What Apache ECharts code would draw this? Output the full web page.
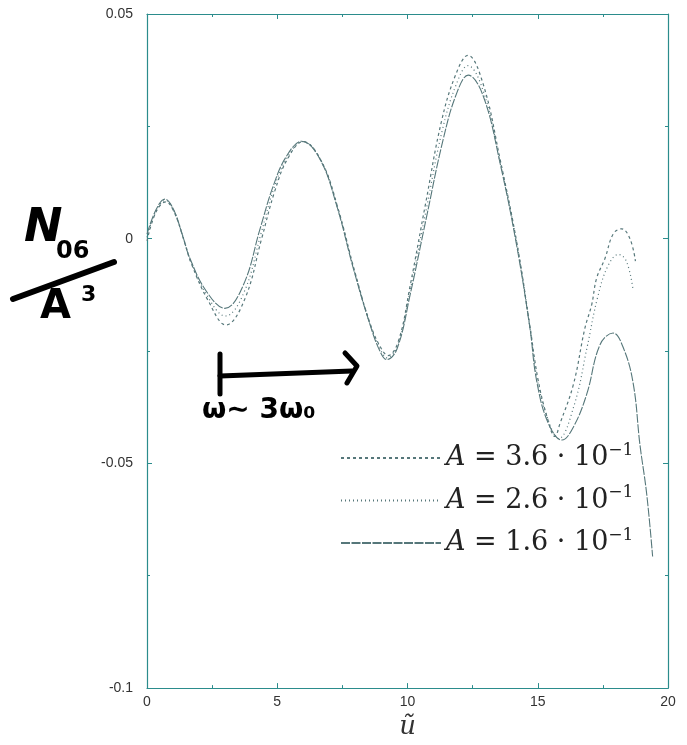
<!DOCTYPE html>
<html>
<head>
<meta charset="utf-8">
<style>
  html, body { margin: 0; padding: 0; background: #fff; }
  #main { width: 687px; height: 745px; }
</style>
<script src="https://cdn.jsdelivr.net/npm/echarts@6/dist/echarts.min.js"></script>
</head>
<body>
<div id="main"></div>
<script>
// amplitudes shown in the legend
var ampLabels = ['3.6', '2.6', '1.6'];

// A = 3.6e-1 (dotted, higher peaks)
var u36 = [0, 0.35, 0.73, 1.05, 1.40, 1.70, 2.35, 3.03, 3.75, 4.40, 4.90, 5.40, 6.00, 6.70, 7.33, 7.97, 8.60, 9.00, 9.25, 9.65,
  10.10, 10.70, 11.30, 11.85, 12.32, 12.90, 13.55, 14.20, 14.70, 15.00, 15.35, 15.66, 15.85, 16.37, 16.81, 17.07, 17.26, 17.58, 17.90, 18.22,
  18.54, 18.75];
var v36 = [-0.0005, 0.006, 0.0082, 0.0058, 0.0, -0.0055, -0.0138, -0.0192, -0.0135, 0.0, 0.0105, 0.0178, 0.0216, 0.0172, 0.0068, -0.0072, -0.0195, -0.0245, -0.026, -0.0228,
  -0.0105, 0.008, 0.026, 0.0365, 0.0408, 0.0345, 0.0178, -0.0010, -0.0195, -0.0310, -0.0395, -0.0440, -0.0412, -0.0324, -0.0199, -0.0147, -0.0088, -0.0044, 0.0011, 0.0022,
  0.0, -0.005];

// A = 2.6e-1
var u26 = [0, 0.35, 0.71, 1.03, 1.38, 1.68, 2.32, 3.01, 3.72, 4.37, 4.87, 5.38, 5.97, 6.67, 7.30, 7.95, 8.58, 8.97, 9.22, 9.62,
  10.10, 10.72, 11.33, 11.87, 12.32, 12.90, 13.55, 14.20, 14.70, 14.98, 15.38, 15.80, 16.40, 16.90, 17.30, 17.70, 18.10, 18.40, 18.65];
var v26 = [0.0003, 0.0062, 0.0085, 0.0062, 0.0005, -0.005, -0.0128, -0.0172, -0.012, 0.001, 0.0112, 0.018, 0.0216, 0.0175, 0.0071, -0.007, -0.0193, -0.0248, -0.0265, -0.0238,
  -0.0115, 0.0065, 0.024, 0.0343, 0.0385, 0.033, 0.0172, -0.0012, -0.0197, -0.0313, -0.040, -0.0445, -0.037, -0.024, -0.013, -0.006, -0.0035, -0.005, -0.011];

// A = 1.6e-1 (nearly solid, runs to the end)
var u16 = [0, 0.35, 0.69, 1.01, 1.35, 1.65, 2.29, 2.99, 3.70, 4.34, 4.85, 5.36, 5.94, 6.64, 7.28, 7.92, 8.56, 8.94, 9.20, 9.60,
  10.10, 10.74, 11.37, 11.89, 12.33, 12.91, 13.55, 14.19, 14.70, 14.96, 15.40, 15.93, 16.36, 16.88, 17.39, 17.89, 18.30, 18.67, 18.92, 19.18,
  19.41];
var v16 = [0.001, 0.0065, 0.0088, 0.0066, 0.001, -0.0044, -0.0118, -0.0155, -0.0103, 0.0022, 0.0118, 0.0184, 0.0217, 0.0177, 0.0074, -0.0066, -0.0191, -0.025, -0.0269, -0.0245,
  -0.0125, 0.0051, 0.0221, 0.0324, 0.0364, 0.0317, 0.0169, -0.0015, -0.0199, -0.0317, -0.0410, -0.0448, -0.042, -0.0346, -0.0236, -0.021, -0.0245, -0.0324, -0.0457, -0.0567,
  -0.0707];

var xTicks = [0, 5, 10, 15, 20];
var yTicks = [-0.1, -0.05, 0, 0.05];

function zip(us, vs) {
  return us.map(function (u, i) { return [u, vs[i]]; });
}

var frame = '#2b8c8c';
var ink = '#56777a';

var myChart = echarts.init(document.getElementById('main'));

function mkSeries(i, us, vs, dash, width) {
  return {
    name: 'A = ' + ampLabels[i] + ' · 10^-1',
    type: 'line',
    smooth: 0.4,
    symbol: 'none',
    data: zip(us, vs),
    lineStyle: { color: ink, width: width, type: dash },
    itemStyle: { color: ink }
  };
}

var axisCommon = {
  type: 'value',
  splitLine: { show: false },
  axisLine: { onZero: false, lineStyle: { color: frame, width: 1.2 } },
  axisTick: { inside: true, length: 5, lineStyle: { color: frame } },
  minorTick: { show: true, splitNumber: 2, length: 3, lineStyle: { color: frame } }
};

myChart.setOption({
  animation: false,
  backgroundColor: '#fff',
  grid: { left: 147, right: 19, top: 14, bottom: 52 },
  legend: {
    orient: 'vertical',
    left: 335,
    top: 437,
    itemWidth: 100,
    itemHeight: 14,
    itemGap: 13,
    itemStyle: { opacity: 0 },
    data: ampLabels.map(function (a) { return 'A = ' + a + ' · 10^-1'; }),
    formatter: function (name) {
      var a = name.split(' ')[2];
      return '{i|A}{t| = ' + a + ' · 10}{s|−1}';
    },
    textStyle: {
      rich: {
        i: { fontFamily: 'DejaVu Serif', fontStyle: 'italic', fontSize: 27, color: '#222', lineHeight: 32 },
        t: { fontFamily: 'DejaVu Serif', fontSize: 27, color: '#222', lineHeight: 32 },
        s: { fontFamily: 'DejaVu Serif', fontSize: 17, color: '#222', verticalAlign: 'top', lineHeight: 32 }
      }
    }
  },
  xAxis: [
    Object.assign({}, axisCommon, {
      min: xTicks[0], max: xTicks[xTicks.length - 1], interval: 5,
      position: 'bottom',
      name: 'ũ',
      nameLocation: 'middle',
      nameGap: 14,
      nameTextStyle: { fontFamily: 'DejaVu Serif', fontStyle: 'italic', fontSize: 26, color: '#333' },
      axisLabel: { margin: 7, color: '#333', fontSize: 14, fontFamily: 'Liberation Sans' }
    }),
    Object.assign({}, axisCommon, {
      min: xTicks[0], max: xTicks[xTicks.length - 1], interval: 5,
      position: 'top',
      axisLabel: { show: false }
    })
  ],
  yAxis: [
    Object.assign({}, axisCommon, {
      min: yTicks[0], max: yTicks[yTicks.length - 1], interval: 0.05,
      position: 'left',
      axisLabel: { margin: 14, color: '#333', fontSize: 14, fontFamily: 'Liberation Sans' }
    }),
    Object.assign({}, axisCommon, {
      min: yTicks[0], max: yTicks[yTicks.length - 1], interval: 0.05,
      position: 'right',
      axisLabel: { show: false }
    })
  ],
  series: [
    mkSeries(0, u36, v36, [3, 3], 1.2),
    mkSeries(1, u26, v26, [1, 3], 1.2),
    mkSeries(2, u16, v16, [9, 1.5], 1.1)
  ],
  graphic: [
    // handwritten y label N06 / A^3
    { type: 'text', left: 24, top: 206, style: { text: 'N', font: 'italic bold 46px "DejaVu Sans"', fill: '#000' } },
    { type: 'text', left: 56, top: 240, style: { text: '06', font: 'bold 24px "DejaVu Sans"', fill: '#000' } },
    { type: 'line', shape: { x1: 13, y1: 299, x2: 114, y2: 262 }, style: { stroke: '#000', lineWidth: 6, lineCap: 'round' } },
    { type: 'text', left: 40, top: 288, style: { text: 'A', font: 'bold 40px "DejaVu Sans"', fill: '#000' } },
    { type: 'text', left: 81, top: 284, style: { text: '3', font: 'bold 22px "DejaVu Sans"', fill: '#000' } },
    // handwritten arrow
    { type: 'line', shape: { x1: 220, y1: 354, x2: 220, y2: 394 }, style: { stroke: '#000', lineWidth: 5, lineCap: 'round' } },
    { type: 'line', shape: { x1: 220, y1: 376, x2: 352, y2: 371 }, style: { stroke: '#000', lineWidth: 5, lineCap: 'round' } },
    { type: 'polyline', shape: { points: [[345, 353], [357, 366], [347, 383]] }, style: { stroke: '#000', lineWidth: 5, lineCap: 'round', lineJoin: 'round', fill: null } },
    { type: 'text', left: 202, top: 397, style: { text: 'ω∼ 3ω₀', font: 'bold 28px "DejaVu Sans"', fill: '#000' } }
  ]
});
</script>
</body>
</html>
